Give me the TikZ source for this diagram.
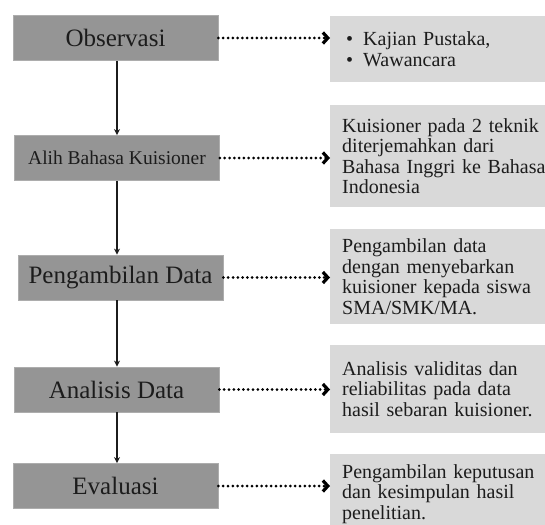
\documentclass[tikz,border=0pt]{standalone}
\usepackage{fontspec}
\setmainfont{Liberation Serif}
\usetikzlibrary{arrows.meta}
\definecolor{StepGray}{HTML}{959595}
\definecolor{StepEdge}{HTML}{ADADAD}
\definecolor{NoteGray}{HTML}{D9D9D9}
\definecolor{Ink}{HTML}{1C1C1C}

\begin{document}
\begin{tikzpicture}[x=1pt,y=-1pt,
    stepbox/.style={draw=StepEdge,line width=0.8pt,fill=StepGray,text=Ink,minimum width=205pt,minimum height=45pt,inner sep=0pt,font=\fontsize{25}{27}\selectfont},
    notebox/.style={anchor=west,fill=NoteGray,text=Ink,text width=215pt,inner xsep=12pt,inner ysep=0pt,align=left,font=\fontsize{20}{20.5}\selectfont},
    flow/.style={-{Stealth[length=6pt,width=6pt]},line width=1.2pt,Ink},
    link/.style={line width=3pt,dash pattern=on 0pt off 4.8pt,line cap=round,-{Straight Barb[length=5pt,width=11pt,line width=3.2pt]},black}]
    \useasboundingbox (0,0) rectangle (545,524);

    % steps
    \node[stepbox] (obs) at (115.5,38) {Observasi};
    \node[stepbox] (alih) at (117,158) {\fontsize{19.5}{22}\selectfont Alih Bahasa Kuisioner};
    \node[stepbox] (ambil) at (120.5,277.5) {Pengambilan Data};
    \node[stepbox] (anal) at (116.5,389.5) {Analisis Data};
    \node[stepbox] (eval) at (115.5,486) {Evaluasi};

    % notes
    \node[notebox,minimum height=66pt] (n1) at (330,49) {\fontsize{20}{21}\selectfont\hspace*{4pt}\textbullet\hspace{10pt}Kajian Pustaka,\\ \hspace*{4pt}\textbullet\hspace{10pt}Wawancara};
    \node[notebox,minimum height=102pt] (n2) at (330,156) {Kuisioner pada 2 teknik\\ diterjemahkan dari\\ Bahasa Inggri ke Bahasa\\ Indonesia};
    \node[notebox,minimum height=95pt] (n3) at (330,276.5) {Pengambilan data\\ dengan menyebarkan\\ kuisioner kepada siswa\\ SMA/SMK/MA.};
    \node[notebox,minimum height=88pt] (n4) at (330,389) {Analisis validitas dan\\ reliabilitas pada data\\ hasil sebaran kuisioner.};
    \node[notebox,minimum height=80pt] (n5) at (330,494) {Pengambilan keputusan\\ dan kesimpulan hasil\\ penelitian.};

    % flow down
    \draw[flow] (alih.north |- obs.south) -- (alih.north);
    \draw[flow] (alih.south) -- (alih.south |- ambil.north);
    \draw[flow] (alih.south |- ambil.south) -- (alih.south |- anal.north);
    \draw[flow] (alih.south |- anal.south) -- (alih.south |- eval.north);

    % dotted links
    \draw[link] (obs.east) -- (obs.east -| n1.west);
    \draw[link] (alih.east) -- (alih.east -| n2.west);
    \draw[link] (ambil.east) -- (ambil.east -| n3.west);
    \draw[link] (anal.east) -- (anal.east -| n4.west);
    \draw[link] (eval.east) -- (eval.east -| n5.west);
\end{tikzpicture}
\end{document}
